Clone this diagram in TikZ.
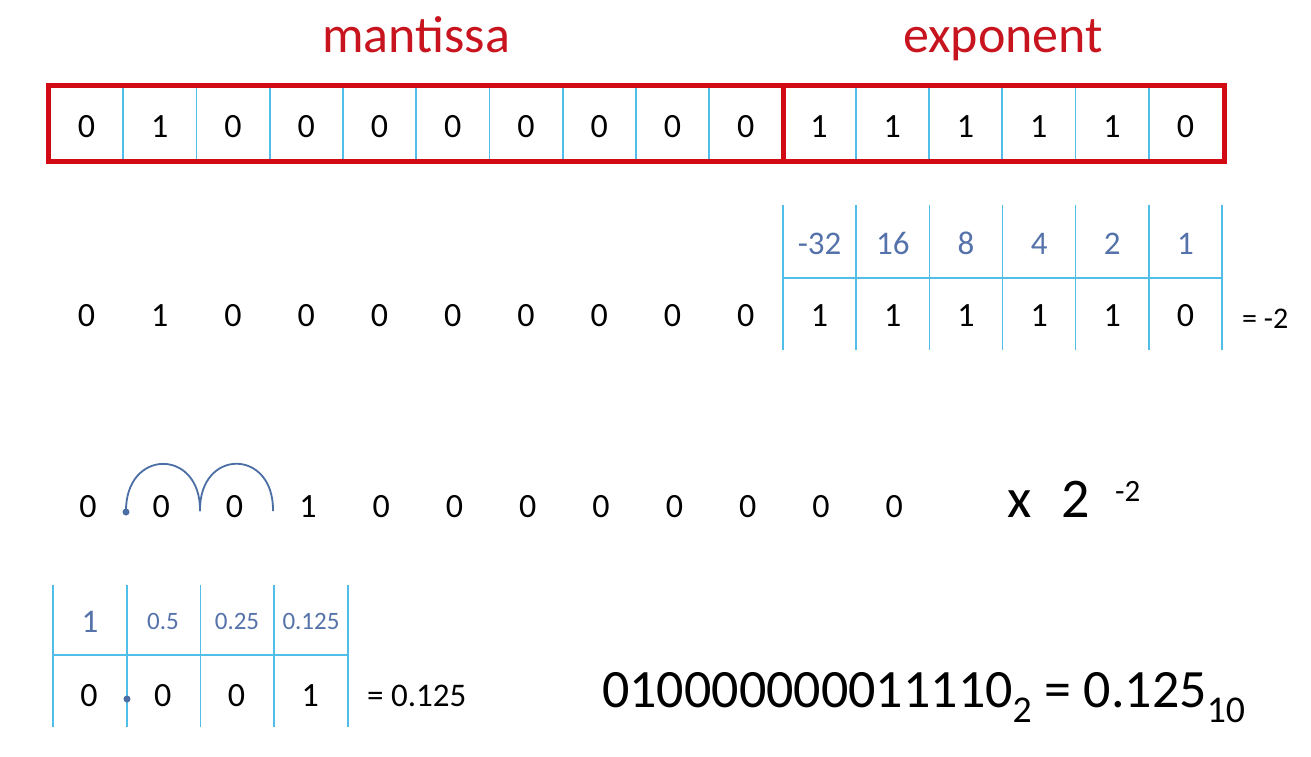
\documentclass[tikz,border=0pt]{standalone}
\usepackage{fontspec}
\setmainfont{Carlito}
\definecolor{cellline}{RGB}{80,190,230}
\definecolor{boxred}{RGB}{210,10,20}
\definecolor{titlered}{RGB}{200,20,30}
\definecolor{labblue}{RGB}{85,115,170}
\definecolor{arcblue}{RGB}{75,110,165}
\begin{document}
\begin{tikzpicture}[x=1pt,y=-1pt,
  digit/.style={font=\fontsize{34}{36}\selectfont, inner sep=0pt, anchor=base},
  lab/.style={font=\fontsize{33}{35}\selectfont, inner sep=0pt, anchor=base, text=labblue},
  smalllab/.style={font=\fontsize{25}{27}\selectfont, inner sep=0pt, anchor=base, text=labblue},
  title/.style={font=\fontsize{52}{54}\selectfont, inner sep=0pt, anchor=base, text=titlered},
  eqtext/.style={font=\fontsize{33}{35}\selectfont, inner sep=0pt, anchor=base west},
  bigtext/.style={font=\fontsize{54}{56}\selectfont, inner sep=0pt, anchor=base west},
  grid/.style={draw=cellline, line width=1.6pt},
  redbox/.style={draw=boxred, line width=5pt},
  arcline/.style={draw=arcblue, line width=1.8pt},
]
\useasboundingbox (0,0) rectangle (1311,757);
\fill[white] (0,0) rectangle (1311,757);

% titles
\node[title] (tm) at (416,53) {mantissa};
\node[title] (te) at (1003,53) {exponent};

% top register
\foreach \i in {1,...,15} {
  \draw[grid] ({50+73.25*\i},86) -- ({50+73.25*\i},161);
}
\draw[redbox] (48,86) rectangle (1224,161);
\draw[redbox] (783,86) -- (783,161);
\foreach \b [count=\i from 0] in {0,1,0,0,0,0,0,0,0,0,1,1,1,1,1,0} {
  \node[digit] (r\i) at ({86.6+73.25*\i},138) {\b};
}

% row 2 mantissa digits
\foreach \b [count=\i from 0] in {0,1,0,0,0,0,0,0,0,0} {
  \node[digit] (m\i) at ({86.6+73.25*\i},326) {\b};
}
% exponent table
\foreach \i in {0,...,6} {
  \draw[grid] ({783+73.17*\i},205) -- ({783+73.17*\i},350);
}
\draw[grid] (783,278) -- (1222,278);
\foreach \v [count=\i from 0] in {-32,16,8,4,2,1} {
  \node[lab] (w\i) at ({819.6+73.17*\i},254) {\v};
}
\foreach \b [count=\i from 0] in {1,1,1,1,1,0} {
  \node[digit] (e\i) at ({819.6+73.17*\i},326) {\b};
}
\node[eqtext, font=\fontsize{30}{32}\selectfont] (eqm2) at (1242,328) {= -2};

% row 3 shifted
\foreach \b [count=\i from 0] in {0,0,0,1,0,0,0,0,0,0,0,0} {
  \node[digit] (s\i) at ({88+73.3*\i},517) {\b};
}
\coordinate (p0) at (126,512);
\coordinate (p1) at (200,511);
\coordinate (p2) at (273,511);
\fill[arcblue] (p0) circle (3.5pt);
\draw[arcline] (p0) .. controls (125,448) and (201,448) .. (p1);
\draw[arcline] (p1) .. controls (199,448) and (274,448) .. (p2);
\node[bigtext, font=\fontsize{56}{58}\selectfont] (xx) at (1007,517) {x};
\node[bigtext, font=\fontsize{56}{58}\selectfont] (two) at (1061,517) {2};
\node[eqtext, font=\fontsize{31}{33}\selectfont] (sup) at (1115,501) {-2};

% bottom table
\foreach \i in {0,...,4} {
  \draw[grid] ({53+73.75*\i},585) -- ({53+73.75*\i},727);
}
\draw[grid] (53,655) -- (348,655);
\node[lab] (f0) at (90,632) {1};
\node[smalllab] (f1) at (163,629) {0.5};
\node[smalllab] (f2) at (237,629) {0.25};
\node[smalllab] (f3) at (311,629) {0.125};
\foreach \b [count=\i from 0] in {0,0,0,1} {
  \node[digit] (g\i) at ({89+73.75*\i},706) {\b};
}
\coordinate (bp) at (127,699);
\fill[arcblue] (bp) circle (3.5pt);
\node[eqtext] (eq125) at (367,706) {= 0.125};

% result
\node[bigtext] (res) at (602,707) {010000000011110\textsubscript{2} = 0.125\textsubscript{10}};
\end{tikzpicture}
\end{document}
